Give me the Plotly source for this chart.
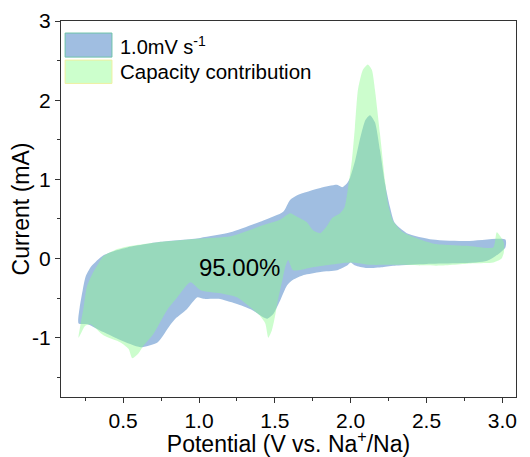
import plotly.graph_objects as go

# CV at 1.0 mV/s (anodic branch, left -> right)
cv_up_v = [0.206, 0.213, 0.233, 0.252, 0.285, 0.331, 0.37, 0.45, 0.528, 0.745, 1.008, 1.207,
           1.424, 1.555, 1.60, 1.647, 1.80, 1.91, 1.944, 1.976, 1.996, 2.03, 2.064, 2.097,
           2.127, 2.16, 2.193, 2.226, 2.259, 2.29, 2.37, 2.54, 2.765, 3.02]
cv_up_i = [-0.82, -0.62, -0.40, -0.23, -0.11, -0.02, 0.04, 0.10, 0.14, 0.21, 0.26, 0.33,
           0.48, 0.59, 0.74, 0.80, 0.89, 0.93, 0.90, 0.95, 1.02, 1.24, 1.53, 1.75,
           1.81, 1.72, 1.37, 0.95, 0.65, 0.45, 0.32, 0.24, 0.22, 0.24]
# CV cathodic branch (right -> left)
cv_down_v = [3.02, 2.9, 2.5, 2.3, 2.21, 2.1, 2.03, 2.0, 1.976, 1.91, 1.80, 1.69, 1.62, 1.58,
             1.535, 1.49, 1.45, 1.42, 1.35, 1.24, 1.13, 1.03, 0.99, 0.92, 0.85, 0.81, 0.726,
             0.614, 0.48, 0.37, 0.265, 0.206]
cv_down_i = [0.14, -0.03, -0.07, -0.09, -0.11, -0.12, -0.09, -0.05, -0.09, -0.15, -0.17,
             -0.21, -0.27, -0.34, -0.53, -0.70, -0.76, -0.74, -0.65, -0.57, -0.51, -0.51,
             -0.49, -0.64, -0.75, -0.84, -1.06, -1.12, -1.03, -0.93, -0.83, -0.82]

# capacitive contribution, upper branch
cap_up_v = [0.206, 0.22, 0.239, 0.26, 0.298, 0.338, 0.37, 0.45, 0.53, 0.75, 1.0, 1.21, 1.42,
            1.535, 1.60, 1.634, 1.71, 1.75, 1.80, 1.84, 1.878, 1.93, 1.96, 1.98, 2.008, 2.028,
            2.048, 2.08, 2.113, 2.14, 2.16, 2.193, 2.226, 2.245, 2.278, 2.345, 2.54, 2.765,
            2.94, 2.963, 3.01, 3.01, 2.995]
cap_up_i = [-1.0, -0.82, -0.62, -0.36, -0.19, -0.06, 0.03, 0.11, 0.15, 0.21, 0.25, 0.28, 0.42,
            0.49, 0.57, 0.54, 0.46, 0.36, 0.32, 0.40, 0.51, 0.57, 0.65, 0.86, 1.24, 1.66,
            2.13, 2.38, 2.45, 2.38, 2.13, 1.58, 0.99, 0.70, 0.48, 0.33, 0.19, 0.16,
            0.14, 0.33, 0.20, 0.08, 0.0]
# capacitive contribution, lower branch
cap_down_v = [2.94, 2.81, 2.59, 2.26, 2.13, 2.0, 1.75, 1.62, 1.588, 1.568, 1.55, 1.52, 1.50,
              1.48, 1.457, 1.437, 1.40, 1.34, 1.25, 1.14, 1.01, 0.943, 0.857, 0.79, 0.70,
              0.627, 0.60, 0.56, 0.535, 0.482, 0.37, 0.285, 0.25, 0.206]
cap_down_i = [-0.05, -0.06, -0.09, -0.08, -0.08, -0.05, -0.11, -0.15, -0.02, -0.11, -0.27,
              -0.53, -0.74, -0.91, -1.0, -0.82, -0.72, -0.62, -0.49, -0.44, -0.40, -0.30,
              -0.49, -0.65, -0.95, -1.12, -1.2, -1.26, -1.14, -1.06, -0.97, -0.83, -0.85, -1.0]

y_ticks = [-1, 0, 1, 2, 3]
y_labels = ["-1", "0", "1", "2", "3"]
ratio_text = "95.00%"

font = "Arial, Liberation Sans, sans-serif"

fig = go.Figure()
fig.add_trace(go.Scatter(
    x=cv_up_v + cv_down_v, y=cv_up_i + cv_down_i,
    mode="lines", fill="toself", fillcolor="rgb(160,190,225)",
    line=dict(width=0, shape="spline", smoothing=0.6), hoverinfo="skip", showlegend=False))
fig.add_trace(go.Scatter(
    x=cap_up_v + cap_down_v, y=cap_up_i + cap_down_i,
    mode="lines", fill="toself", fillcolor="rgba(141,250,145,0.45)",
    line=dict(width=0, shape="spline", smoothing=0.6), hoverinfo="skip", showlegend=False))

# legend drawn by hand (big swatches)
fig.add_shape(type="rect", xref="paper", yref="paper", x0=0.009, x1=0.112, y0=0.904, y1=0.968,
              fillcolor="rgb(160,190,225)", line=dict(color="rgb(110,195,170)", width=1))
fig.add_shape(type="rect", xref="paper", yref="paper", x0=0.009, x1=0.112, y0=0.834, y1=0.896,
              fillcolor="rgb(204,255,204)", line=dict(color="rgb(238,240,160)", width=1))
fig.add_annotation(xref="paper", yref="paper", x=0.125, y=0.934, xanchor="left", yanchor="middle",
                   text="1.0mV s<sup>-1</sup>", showarrow=False, font=dict(size=20, color="black"))
fig.add_annotation(xref="paper", yref="paper", x=0.125, y=0.866, xanchor="left", yanchor="middle",
                   text="Capacity contribution", showarrow=False, font=dict(size=20.5, color="black"))
fig.add_annotation(x=1.27, y=-0.12, text=ratio_text, showarrow=False,
                   font=dict(size=24, color="black"))

axis_common = dict(showline=True, linecolor="#333", linewidth=1.3, mirror=True,
                   ticks="outside", ticklen=5, tickwidth=1.2, tickcolor="#333",
                   showgrid=False, zeroline=False, automargin=False,
                   tickfont=dict(size=21, color="black"))
fig.update_xaxes(range=[0.09, 3.09], dtick=0.5, tick0=0, tickformat=".1f",
                 minor=dict(dtick=0.25, tick0=0, ticks="outside", ticklen=3, tickcolor="#333"),
                 title=dict(text="Potential (V vs. Na<sup>+</sup>/Na)", font=dict(size=23), standoff=2),
                 **axis_common)
fig.update_yaxes(range=[-1.75, 3.0], tickvals=y_ticks, ticktext=y_labels,
                 minor=dict(dtick=0.5, tick0=0, ticks="outside", ticklen=3, tickcolor="#333"),
                 title=dict(text="Current (mA)", font=dict(size=23), standoff=4),
                 **axis_common)
# page body has an 8px margin, so the figure is shrunk by that much
fig.update_layout(width=522, height=449, margin=dict(l=53, r=14, t=13, b=60),
                  plot_bgcolor="white", paper_bgcolor="white",
                  font=dict(family=font, color="black"))
fig.write_html("out.html")
